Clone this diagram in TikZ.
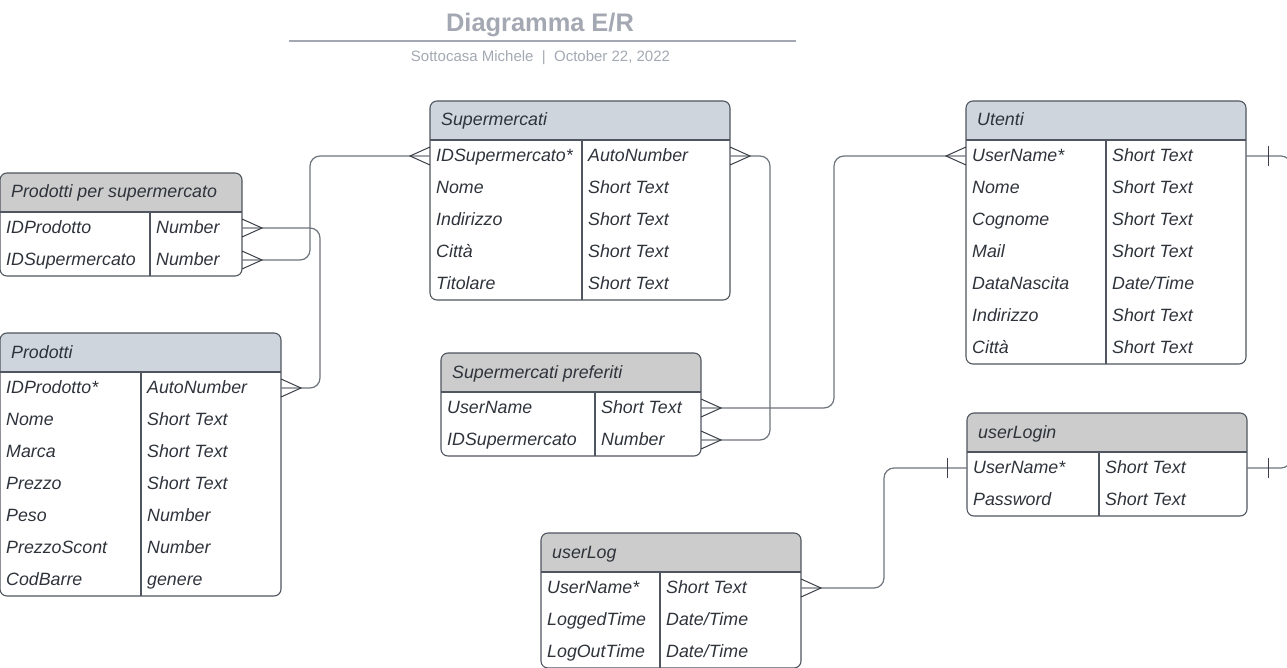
\documentclass[tikz,border=0pt]{standalone}
\usepackage{fontspec}
\setmainfont{Liberation Sans}
\definecolor{borderc}{HTML}{50565F}
\definecolor{connc}{HTML}{6E747D}
\definecolor{footc}{HTML}{3A3F47}
\definecolor{txtc}{HTML}{2E333B}
\definecolor{titlec}{HTML}{A3A8B2}
\definecolor{hblue}{HTML}{CFD5DD}
\definecolor{hgray}{HTML}{CCCCCC}
\tikzset{
  boxline/.style={draw=borderc, line width=1.1pt},
  conn/.style={draw=connc, line width=1.2pt, rounded corners=10pt},
  foot/.style={draw=footc, line width=1pt},
  celltxt/.style={anchor=base west, inner sep=0pt, font=\fontsize{17.8}{20}\selectfont\itshape, text=txtc},
  rowcell/.style={inner sep=0pt, outer sep=0pt, minimum height=32pt, anchor=north west, rectangle}
}
\newcommand{\ertab}[9]{%
  \path[fill=#7] (#2,#3+39) [rounded corners=7pt]-- (#2,#3) -- (#4,#3) [sharp corners]-- (#4,#3+39) -- cycle;
  \draw[boxline, rounded corners=7pt] (#2,#3) rectangle (#4,#3+39+32*#6);
  \draw[boxline] (#2,#3+39) -- (#4,#3+39);
  \draw[boxline] (#5,#3+39) -- (#5,#3+39+32*#6);
  \node[celltxt] (#1-t) at (#2+11,#3+25) {#8};
  \foreach \f/\t [count=\i] in {#9}{
    \node[rowcell, minimum width={(#4-#2)*1pt}] (#1-\i) at (#2,#3+39+32*\i-32) {};
    \node[celltxt] (#1-\i-f) at (#2+6,#3+60.5+32*\i-32) {\f};
    \node[celltxt] (#1-\i-y) at (#5+6,#3+60.5+32*\i-32) {\t};
  }
}
\newcommand{\crowR}[1]{\draw[foot] ([yshift=9pt]#1) -- ([xshift=20pt]#1) -- ([yshift=-9pt]#1);}
\newcommand{\crowL}[1]{\draw[foot] ([yshift=9pt]#1) -- ([xshift=-20pt]#1) -- ([yshift=-9pt]#1);}
\newcommand{\barmark}[2]{\draw[foot] ([xshift=#2, yshift=10pt]#1) -- ([xshift=#2, yshift=-10pt]#1);}
\begin{document}
\begin{tikzpicture}[x=1pt, y=-1pt]
\useasboundingbox (0,0) rectangle (1287,668);
% title
\node[anchor=base, inner sep=0pt, font=\fontsize{25.4}{28}\selectfont\bfseries, text=titlec] (title) at (540,31.5) {Diagramma E/R};
\draw[titlec, line width=2pt] (289,41) -- (796,41);
\node[anchor=base, inner sep=0pt, font=\fontsize{15}{17}\selectfont, text=titlec] (sub) at (540.5,61.5) {Sottocasa Michele \ | \ October 22, 2022};
\coordinate (j1) at (320,0);
\coordinate (j2) at (310,0);
\coordinate (j3) at (770,0);
\coordinate (j4) at (834,0);
\coordinate (j5) at (884,0);
\coordinate (j6) at (1291,0);
% tables
\ertab{pps}{0}{173}{242}{150}{2}{hgray}{Prodotti per supermercato}{IDProdotto/Number, IDSupermercato/Number}
\ertab{prod}{0}{333}{281}{141}{7}{hblue}{Prodotti}{IDProdotto*/AutoNumber, Nome/Short Text, Marca/Short Text, Prezzo/Short Text, Peso/Number, PrezzoScont/Number, CodBarre/genere}
\ertab{sup}{430}{101}{730}{582}{5}{hblue}{Supermercati}{IDSupermercato*/AutoNumber, Nome/Short Text, Indirizzo/Short Text, Città/Short Text, Titolare/Short Text}
\ertab{sp}{441}{353}{701}{595}{2}{hgray}{Supermercati preferiti}{UserName/Short Text, IDSupermercato/Number}
\ertab{ute}{966}{101}{1246}{1106}{7}{hblue}{Utenti}{UserName*/Short Text, Nome/Short Text, Cognome/Short Text, Mail/Short Text, DataNascita/Date\slash Time, Indirizzo/Short Text, Città/Short Text}
\ertab{ulogin}{967}{413}{1247}{1099}{2}{hgray}{userLogin}{UserName*/Short Text, Password/Short Text}
\ertab{ulog}{541}{533}{801}{660}{3}{hgray}{userLog}{UserName*/Short Text, LoggedTime/Date\slash Time, LogOutTime/Date\slash Time}
% connectors
\draw[conn] (pps-1.east) -- (pps-1.east -| j1) -- (prod-1.east -| j1) -- (prod-1.east);
\draw[conn] (pps-2.east) -- (pps-2.east -| j2) -- (sup-1.west -| j2) -- (sup-1.west);
\draw[conn] (sup-1.east) -- (sup-1.east -| j3) -- (sp-2.east -| j3) -- (sp-2.east);
\draw[conn] (ute-1.west) -- (ute-1.west -| j4) -- (sp-1.east -| j4) -- (sp-1.east);
\draw[conn] (ulogin-1.west) -- (ulogin-1.west -| j5) -- (ulog-1.east -| j5) -- (ulog-1.east);
\draw[conn] (ute-1.east) -- (ute-1.east -| j6) -- (ulogin-1.east -| j6) -- (ulogin-1.east);
% crow's feet and bars
\crowR{pps-1.east}
\crowR{pps-2.east}
\crowR{prod-1.east}
\crowL{sup-1.west}
\crowR{sup-1.east}
\crowR{sp-1.east}
\crowR{sp-2.east}
\crowL{ute-1.west}
\crowR{ulog-1.east}
\barmark{ulogin-1.west}{-20pt}
\barmark{ute-1.east}{22pt}
\barmark{ulogin-1.east}{21pt}
\end{tikzpicture}
\end{document}
